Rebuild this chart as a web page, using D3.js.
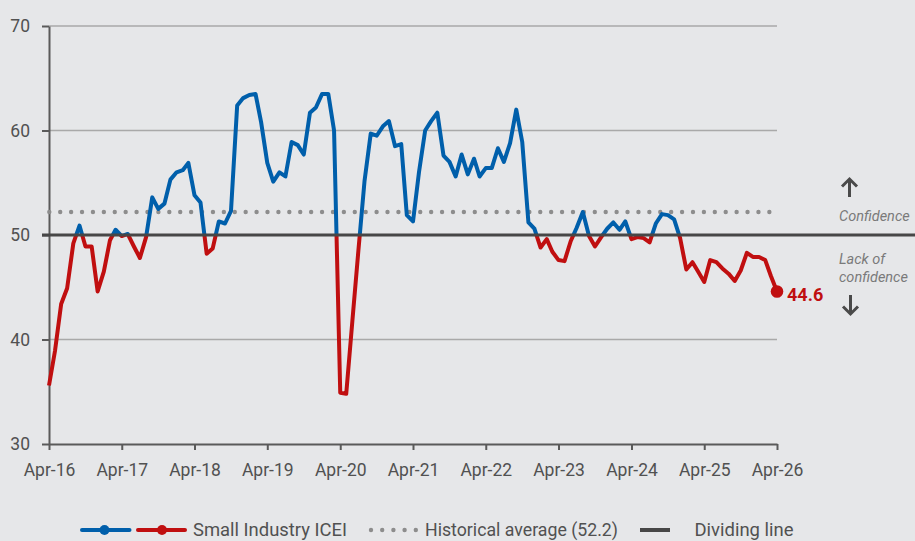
<!DOCTYPE html>
<html>
<head>
<meta charset="utf-8">
<script src="https://cdn.jsdelivr.net/npm/d3@7"></script>
<style>
  html, body { margin: 0; padding: 0; background: #e6e7e9; }
  svg { display: block; font-family: Roboto, "Noto Sans", sans-serif; }
</style>
</head>
<body>
<svg id="chart" width="915" height="541"></svg>
<script>
// monthly Small Industry ICEI, Apr-16 .. Apr-26
const startMonth = "2016-04";
const icei = [
  35.6, 38.9, 43.4, 44.9, 49.2, 50.9, 48.9, 48.9, 44.6, 46.5, 49.5, 50.5,
  49.9, 50.1, 48.9, 47.8, 49.8, 53.6, 52.5, 53.0, 55.3, 56.0, 56.2, 56.9,
  53.8, 53.1, 48.2, 48.7, 51.3, 51.1, 52.3, 62.4, 63.1, 63.4, 63.5, 60.8,
  56.9, 55.1, 56.0, 55.6, 58.9, 58.6, 57.7, 61.7, 62.2, 63.5, 63.5, 60.0,
  34.9, 34.8, 41.8, 48.5, 55.2, 59.7, 59.5, 60.4, 60.9, 58.5, 58.7, 51.9,
  51.3, 56.0, 60.0, 60.9, 61.7, 57.6, 57.0, 55.6, 57.7, 55.8, 57.3, 55.6,
  56.4, 56.4, 58.3, 57.0, 58.8, 62.0, 58.9, 51.2, 50.6, 48.8, 49.6, 48.4,
  47.6, 47.5, 49.4, 50.7, 52.2, 49.9, 48.9, 49.8, 50.6, 51.2, 50.5, 51.3,
  49.6, 49.8, 49.7, 49.3, 51.1, 52.0, 51.9, 51.5, 49.7, 46.7, 47.4, 46.5,
  45.5, 47.6, 47.4, 46.8, 46.3, 45.6, 46.6, 48.3, 47.9, 47.9, 47.6, 46.1,
  44.6
];
const historicalAverage = 52.2;
const dividingValue = 50;
const yTicks = [30, 40, 50, 60, 70];
const gridValues = [40, 60, 70];
const legendLabels = ["Small Industry ICEI", "Historical average (52.2)", "Dividing line"];
const upLabel = "Confidence";
const downLabel = ["Lack of", "confidence"];

const blue = "#005fab";
const red = "#c00f10";
const axisGrey = "#5a5a5a";
const textGrey = "#515151";

const svg = d3.select("#chart");
const W = 915, H = 541;

const start = d3.timeParse("%Y-%m")(startMonth);
const data = icei.map((v, i) => ({ date: d3.timeMonth.offset(start, i), value: v }));

const x = d3.scaleTime()
  .domain(d3.extent(data, (d) => d.date))
  .range([49, 777]);
const y = d3.scaleLinear().domain([30, 70]).range([444, 26]);

// grid
svg.append("g")
  .selectAll("line")
  .data(gridValues)
  .join("line")
  .attr("x1", x.range()[0])
  .attr("x2", x.range()[1])
  .attr("y1", (d) => y(d))
  .attr("y2", (d) => y(d))
  .attr("stroke", "#a9a9a9")
  .attr("stroke-width", 1.3);

// axes
const yAxis = svg.append("g")
  .attr("transform", `translate(${x.range()[0]},0)`)
  .call(d3.axisLeft(y).tickValues(yTicks).tickSize(7).tickSizeOuter(0)
    .tickPadding(12).tickFormat(d3.format("d")));

const tickDates = d3.range(0, data.length, 12).map((i) => data[i].date);
const xAxis = svg.append("g")
  .attr("transform", `translate(0,${y(30)})`)
  .call(d3.axisBottom(x).tickValues(tickDates).tickSize(6).tickSizeOuter(0)
    .tickPadding(14).tickFormat(d3.timeFormat("%b-%y")));

[xAxis, yAxis].forEach((g) => {
  g.select(".domain").attr("stroke", axisGrey).attr("stroke-width", 2);
  g.selectAll(".tick line").attr("stroke", axisGrey).attr("stroke-width", 2);
  g.selectAll(".tick text")
    .attr("fill", textGrey)
    .attr("font-size", 17.5)
    .attr("font-family", "Roboto, sans-serif");
});

// historical average (dotted)
svg.append("line")
  .attr("x1", x.range()[0] + 0.3)
  .attr("x2", x.range()[1])
  .attr("y1", y(historicalAverage))
  .attr("y2", y(historicalAverage))
  .attr("stroke", "#8d8d8d")
  .attr("stroke-width", 4.4)
  .attr("stroke-linecap", "round")
  .attr("stroke-dasharray", "0 10.91");

// series split at the dividing line
const defs = svg.append("defs");
defs.append("clipPath").attr("id", "above")
  .append("rect").attr("x", 0).attr("y", 0).attr("width", W).attr("height", y(dividingValue));
defs.append("clipPath").attr("id", "below")
  .append("rect").attr("x", 0).attr("y", y(dividingValue)).attr("width", W)
  .attr("height", H - y(dividingValue));

const line = d3.line().x((d) => x(d.date)).y((d) => y(d.value));

[["above", blue], ["below", red]].forEach(([clip, colour]) => {
  svg.append("path")
    .datum(data)
    .attr("clip-path", `url(#${clip})`)
    .attr("fill", "none")
    .attr("stroke", colour)
    .attr("stroke-width", 4)
    .attr("stroke-linejoin", "round")
    .attr("d", line);
});

// dividing line
svg.append("line")
  .attr("x1", x.range()[0] - 7)
  .attr("x2", W)
  .attr("y1", y(dividingValue))
  .attr("y2", y(dividingValue))
  .attr("stroke", "#474747")
  .attr("stroke-width", 3);

// last value
const last = data[data.length - 1];
svg.append("circle")
  .attr("cx", x(last.date))
  .attr("cy", y(last.value))
  .attr("r", 6.3)
  .attr("fill", red);
svg.append("text")
  .attr("x", x(last.date) + 10)
  .attr("y", y(last.value) + 10)
  .attr("fill", red)
  .attr("font-size", 18)
  .attr("font-weight", "bold")
  .text(d3.format(".1f")(last.value));

// confidence annotations
const ann = svg.append("g").attr("fill", "#7a7a7a").attr("font-size", 14.5)
  .attr("font-style", "italic");
ann.append("text").attr("x", 839).attr("y", 221).text(upLabel);
ann.selectAll(".lack")
  .data(downLabel)
  .join("text")
  .attr("class", "lack")
  .attr("x", 839)
  .attr("y", (d, i) => 264 + i * 18)
  .text((d) => d);

const arrow = svg.append("g")
  .attr("fill", "none")
  .attr("stroke", "#4a4a4a")
  .attr("stroke-width", 3)
  .attr("stroke-linejoin", "miter");
arrow.append("path").attr("d", "M849.5,197 V180 M842,186.5 L849.5,179 L857,186.5");
arrow.append("path").attr("d", "M850.5,295 V313 M843,306.5 L850.5,314 L858,306.5");

// legend
const lg = svg.append("g");
const legendY = 530;
[[82, 129.5, 104.5, blue], [138, 185, 162, red]].forEach(([a, b, c, col]) => {
  lg.append("line").attr("x1", a).attr("x2", b).attr("y1", legendY).attr("y2", legendY)
    .attr("stroke", col).attr("stroke-width", 4).attr("stroke-linecap", "round");
  lg.append("circle").attr("cx", c).attr("cy", legendY).attr("r", 5).attr("fill", col);
});
lg.selectAll(".dot")
  .data(d3.range(5))
  .join("circle")
  .attr("class", "dot")
  .attr("cx", (d) => 371 + d * 11.2)
  .attr("cy", legendY)
  .attr("r", 2.2)
  .attr("fill", "#8d8d8d");
lg.append("line").attr("x1", 640).attr("x2", 670).attr("y1", legendY).attr("y2", legendY)
  .attr("stroke", "#474747").attr("stroke-width", 4);

lg.selectAll(".ltext")
  .data(legendLabels)
  .join("text")
  .attr("class", "ltext")
  .attr("x", (d, i) => [193, 425, 694.5][i])
  .attr("y", 536)
  .attr("fill", textGrey)
  .attr("font-size", 18)
  .attr("textLength", (d, i) => [154, 193, 99][i])
  .attr("lengthAdjust", "spacingAndGlyphs")
  .text((d) => d);
</script>
</body>
</html>
